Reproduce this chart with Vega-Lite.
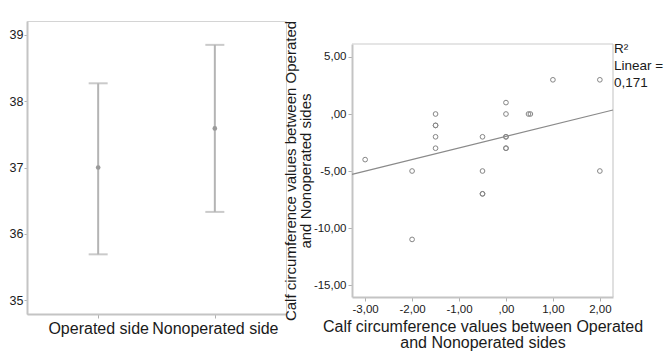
{
  "$schema": "https://vega.github.io/schema/vega-lite/v6.json",
  "background": "white",
  "padding": {"left": 8, "top": 20, "right": 0, "bottom": 0},
  "spacing": -4,
  "config": {
    "font": "Liberation Sans",
    "view": {"stroke": "#d4d4d4"},
    "axis": {
      "grid": false,
      "labelColor": "#1a1a1a",
      "titleColor": "#1a1a1a",
      "titleFontWeight": "normal",
      "domainColor": "#c4c4c4",
      "domainWidth": 2,
      "tickColor": "#b0b0b0",
      "tickSize": 3
    }
  },
  "hconcat": [
    {
      "width": 259,
      "height": 293,
      "data": {
        "values": [
          {"side": "Operated side", "mean": 37.0, "lower": 35.69, "upper": 38.27},
          {"side": "Nonoperated side", "mean": 37.59, "lower": 36.33, "upper": 38.85}
        ]
      },
      "encoding": {
        "x": {
          "field": "side",
          "type": "nominal",
          "sort": ["Operated side", "Nonoperated side"],
          "scale": {"type": "point", "padding": 0.61},
          "axis": {"title": null, "labelAngle": 0, "labelFontSize": 16, "labelPadding": 2, "tickSize": 4}
        }
      },
      "layer": [
        {
          "mark": {"type": "rule", "color": "#b4b4b4", "strokeWidth": 2},
          "encoding": {
            "y": {
              "field": "lower",
              "type": "quantitative",
              "scale": {"domain": [34.79, 39.21], "zero": false, "nice": false},
              "axis": {"title": null, "values": [35, 36, 37, 38, 39], "format": "d", "labelFontSize": 12.5, "labelPadding": 1, "tickSize": 3}
            },
            "y2": {"field": "upper"}
          }
        },
        {
          "mark": {"type": "tick", "color": "#b4b4b4", "thickness": 2, "size": 19},
          "encoding": {"y": {"field": "lower", "type": "quantitative", "axis": {"title": null}}}
        },
        {
          "mark": {"type": "tick", "color": "#b4b4b4", "thickness": 2, "size": 19},
          "encoding": {"y": {"field": "upper", "type": "quantitative", "axis": {"title": null}}}
        },
        {
          "mark": {"type": "point", "filled": true, "color": "#9a9a9a", "size": 22, "opacity": 1},
          "encoding": {"y": {"field": "mean", "type": "quantitative", "axis": {"title": null}}}
        }
      ]
    },
    {
      "width": 261,
      "height": 276,
      "view": {"stroke": null},
      "encoding": {
        "x": {
          "field": "a",
          "type": "quantitative",
          "scale": {"domain": [-3.28, 2.28], "nice": false, "zero": false},
          "axis": {
            "values": [-3, -2, -1, 0, 1, 2],
            "labelExpr": "datum.value == 0 ? ',00' : replace(replace(format(datum.value, '.2f'), '.', ','), '−', '-')",
            "labelFontSize": 11.5,
            "labelPadding": 2,
            "tickSize": 4,
            "title": ["Calf circumference values between Operated", "and Nonoperated sides"],
            "titleFontSize": 16,
            "titleLineHeight": 16,
            "titlePadding": 4
          }
        },
        "y": {
          "field": "b",
          "type": "quantitative",
          "scale": {"domain": [-16.05, 6.14], "nice": false, "zero": false, "range": [276, 23]},
          "axis": {
            "values": [5, 0, -5, -10, -15],
            "labelExpr": "datum.value == 0 ? ',00' : replace(replace(format(datum.value, '.2f'), '.', ','), '−', '-')",
            "labelFontSize": 11.5,
            "labelPadding": 2,
            "tickSize": 4,
            "title": ["Calf circumference values between Operated", "and Nonoperated sides"],
            "titleFontSize": 15,
            "titleLineHeight": 15,
            "titlePadding": 0
          }
        }
      },
      "layer": [
        {
          "data": {"values": [{"a": -3.28, "a2": 2.28, "b": 6.14, "b2": 6.14}, {"a": 2.28, "a2": 2.28, "b": -16.05, "b2": 6.14}]},
          "mark": {"type": "rule", "color": "#cccccc", "strokeWidth": 1.2},
          "encoding": {
            "x2": {"field": "a2"},
            "y2": {"field": "b2"}
          }
        },
        {
          "data": {
            "values": [
              {"a": -3, "b": -4},
              {"a": -2, "b": -5},
              {"a": -2, "b": -11},
              {"a": -1.5, "b": 0},
              {"a": -1.5, "b": -1},
              {"a": -1.5, "b": -1},
              {"a": -1.5, "b": -2},
              {"a": -1.5, "b": -3},
              {"a": -0.5, "b": -2},
              {"a": -0.5, "b": -5},
              {"a": -0.5, "b": -7},
              {"a": -0.5, "b": -7},
              {"a": 0, "b": 1},
              {"a": 0, "b": 0},
              {"a": 0, "b": -2},
              {"a": 0, "b": -2},
              {"a": 0, "b": -3},
              {"a": 0, "b": -3},
              {"a": 0.48, "b": 0},
              {"a": 0.52, "b": 0},
              {"a": 1, "b": 3},
              {"a": 2, "b": 3},
              {"a": 2, "b": -5}
            ]
          },
          "mark": {"type": "point", "shape": "circle", "filled": false, "stroke": "#858585", "strokeWidth": 1, "size": 22, "opacity": 1}
        },
        {
          "data": {"values": [{"a": -3.28, "b": -5.29}, {"a": 2.28, "b": 0.35}]},
          "mark": {"type": "line", "color": "#8a8a8a", "strokeWidth": 1.2}
        },
        {
          "data": {"values": [
            {"a": 2.28, "b": 5.35, "t": "R²"},
            {"a": 2.28, "b": 3.86, "t": "Linear ="},
            {"a": 2.28, "b": 2.37, "t": "0,171"}
          ]},
          "mark": {"type": "text", "align": "left", "baseline": "alphabetic", "dx": 1, "fontSize": 13.5, "color": "#1a1a1a"},
          "encoding": {"text": {"field": "t"}}
        }
      ]
    }
  ]
}
